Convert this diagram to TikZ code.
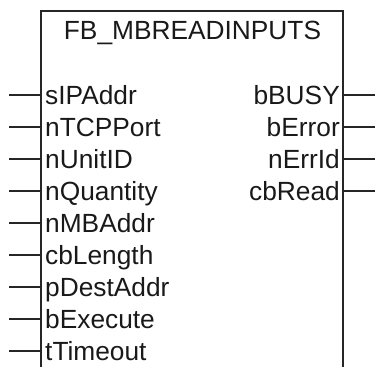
\documentclass[tikz,border=0pt]{standalone}
\usepackage{fontspec}
\setmainfont{Liberation Sans}
\begin{document}
\begin{tikzpicture}[x=1pt,y=1pt,
  wire/.style={line width=1.2pt,draw=black!85},
  lbl/.style={inner sep=0pt,font=\fontsize{26.3}{30}\selectfont,text=black!90},
  inlbl/.style={lbl,anchor=base west},
  outlbl/.style={lbl,anchor=base east}]
\useasboundingbox (0,0) rectangle (377,367);
% box (open at the bottom)
\coordinate (bl) at (41,0);
\coordinate (tl) at (41,356);
\coordinate (tr) at (343,356);
\coordinate (br) at (343,0);
\draw[wire] (bl) -- (tl) -- (tr) -- (br);
\node[lbl,anchor=base] (title) at (192.5,327) {FB\_MBREADINPUTS};
% inputs
\foreach \i/\t in {0/sIPAddr,1/nTCPPort,2/nUnitID,3/nQuantity,4/nMBAddr,5/cbLength,6/pDestAddr,7/bExecute,8/tTimeout}{
  \pgfmathsetmacro{\yy}{272-32*\i}
  \coordinate (in\i) at (9,\yy);
  \coordinate (ie\i) at (41,\yy);
  \draw[wire] (in\i) -- (ie\i);
  \node[inlbl] (il\i) at (45,\yy-9.5) {\t};
}
% outputs
\foreach \i/\t in {0/bBUSY,1/bError,2/nErrId,3/cbRead}{
  \pgfmathsetmacro{\yy}{272-32*\i}
  \coordinate (oe\i) at (343,\yy);
  \coordinate (out\i) at (375,\yy);
  \draw[wire] (oe\i) -- (out\i);
  \node[outlbl] (ol\i) at (340,\yy-9.5) {\t};
}
\end{tikzpicture}
\end{document}
